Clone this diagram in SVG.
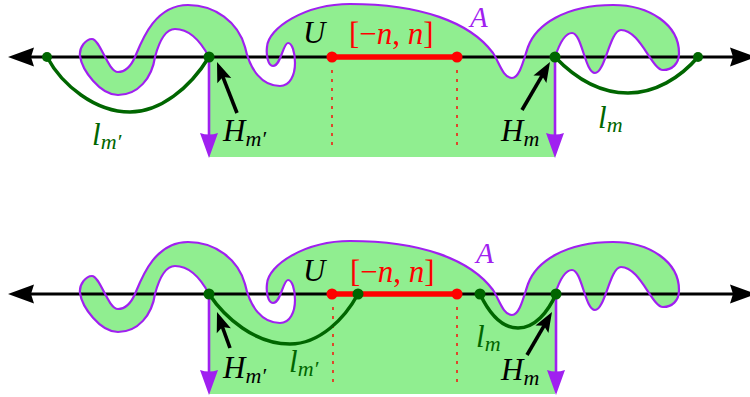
<svg xmlns="http://www.w3.org/2000/svg" width="750" height="397" viewBox="0 0 750 397">
<style>
.fillA{fill:#90EE90;stroke:none}
.curveA{fill:none;stroke:#A020F0;stroke-width:2.2}
.axis{stroke:#000;stroke-width:3.2}
.blk{fill:#000}
.redseg{stroke:#FF0000;stroke-width:5.5}
.rdash{stroke:#FF0000;stroke-width:1.4;stroke-dasharray:3 6}
.gcurve{fill:none;stroke:#006600;stroke-width:3.5}
.gdot{fill:#006600}
.rdot{fill:#FF0000}
.pshaft{stroke:#A020F0;stroke-width:2.6}
.ptip{fill:#A020F0}
.bshaft{stroke:#000;stroke-width:3.6}
text{font-family:"Liberation Serif","Times New Roman",serif;font-size:31px;font-style:italic}
.sub{font-size:22px}
.up{font-style:normal}
.g{fill:#006600}
.r{fill:#FF0000}
.p{fill:#A020F0}
.a{font-size:29px}
</style>
<defs>
<path id="fillshape" d="M209,157 L209,57 C201,42 190,29 175,29 C165,29 159,42 155,57 C152,78 138,95 118,95 C100,95 82,70 80,56 C79,47 86,39 92,39 C100,39 108,72 118,72 C126,72 131,66 135,57 C142,40 155,5 188,5 C215,5 238,22 245,47 C250,70 262,86 280,86 C290,86 295,75 295,63 C295,52 292,43 288,43 C283,43 281,66 273,66 C268,66 266,55 267,47 C268,28 305,4 350,4 C420,4 470,22 493,53 C499,62 503,78 512,78 C520,78 524,58 528,47 C536,25 565,5 613,5 C650,5 679,25 679,53 C679,64 672,70 663,70 C652,70 640,30 621,30 C610,30 605,73 595,73 C585,73 582,33 572,33 C564,33 558,48 555,57 L555,157 Z"/>
<path id="curveshape" d="M209,57 C201,42 190,29 175,29 C165,29 159,42 155,57 C152,78 138,95 118,95 C100,95 82,70 80,56 C79,47 86,39 92,39 C100,39 108,72 118,72 C126,72 131,66 135,57 C142,40 155,5 188,5 C215,5 238,22 245,47 C250,70 262,86 280,86 C290,86 295,75 295,63 C295,52 292,43 288,43 C283,43 281,66 273,66 C268,66 266,55 267,47 C268,28 305,4 350,4 C420,4 470,22 493,53 C499,62 503,78 512,78 C520,78 524,58 528,47 C536,25 565,5 613,5 C650,5 679,25 679,53 C679,64 672,70 663,70 C652,70 640,30 621,30 C610,30 605,73 595,73 C585,73 582,33 572,33 C564,33 558,48 555,57"/>
<path id="ah" d="M0,0 L-20,-7.5 L-16,0 L-20,7.5 Z"/>
<path id="pah" d="M0,0 L-9,-25 Q0,-22 9,-25 Z"/>
</defs>

<!-- ===== Top diagram ===== -->
<g id="regionA-top">
<use href="#fillshape" class="fillA"/>
<line class="rdash" x1="332" y1="70" x2="332" y2="150"/>
<line class="rdash" x1="457" y1="70" x2="457" y2="150"/>
</g>
<g id="axis-top">
<line class="axis" x1="26" y1="57" x2="738" y2="57"/>
<path class="blk" d="M8,57 L34,47.5 L31,57 L34,66.5 Z"/>
<path class="blk" d="M756,57 L730,47.5 L733,57 L730,66.5 Z"/>
</g>
<g id="boundaryA-top">
<use href="#curveshape" class="curveA"/>
</g>
<g id="connectors-top">
<line class="pshaft" x1="209" y1="57" x2="209" y2="140"/>
<use href="#pah" class="ptip" transform="translate(209,158)"/>
<line class="pshaft" x1="555" y1="57" x2="555" y2="140"/>
<use href="#pah" class="ptip" transform="translate(555,158)"/>
<path class="gcurve" d="M47,57 C62,85 95,112 130,112 C160,112 190,88 209,57"/>
<path class="gcurve" d="M555,57 C575,78 600,93 628,93 C655,93 680,78 698,57"/>
<line class="redseg" x1="332" y1="57" x2="457" y2="57"/>
<line class="bshaft" x1="237" y1="113" x2="221.4" y2="73.2"/>
<use href="#ah" class="blk" transform="translate(217,62) rotate(-111.4)"/>
<line class="bshaft" x1="522" y1="110" x2="544" y2="72.4"/>
<use href="#ah" class="blk" transform="translate(550,62) rotate(-59.7)"/>
</g>
<g id="points-top">
<circle class="gdot" cx="47" cy="57" r="5"/>
<circle class="gdot" cx="209" cy="57" r="5.5"/>
<circle class="rdot" cx="332" cy="57" r="5.5"/>
<circle class="rdot" cx="457" cy="57" r="5.5"/>
<circle class="gdot" cx="555" cy="57" r="5.5"/>
<circle class="gdot" cx="698" cy="57" r="5"/>
</g>
<g id="labels-top">
<text x="303" y="43">U</text>
<text x="349" y="44" class="r"><tspan class="up">[−</tspan>n<tspan class="up">, </tspan>n<tspan class="up">]</tspan></text>
<text x="470" y="27" class="p a">A</text>
<text x="223" y="141">H<tspan class="sub" dy="5">m′</tspan></text>
<text x="501" y="141">H<tspan class="sub" dy="5">m</tspan></text>
<text x="92" y="145" class="g">l<tspan class="sub" dy="4">m′</tspan></text>
<text x="598" y="128" class="g">l<tspan class="sub" dy="4">m</tspan></text>
</g>

<!-- ===== Bottom diagram ===== -->
<g id="regionA-bottom">
<use href="#fillshape" class="fillA" transform="translate(0,237)"/>
<line class="rdash" x1="333" y1="307" x2="333" y2="387"/>
<line class="rdash" x1="457" y1="307" x2="457" y2="387"/>
</g>
<g id="axis-bottom">
<line class="axis" x1="26" y1="294" x2="738" y2="294"/>
<path class="blk" d="M8,294 L34,284.5 L31,294 L34,303.5 Z"/>
<path class="blk" d="M756,294 L730,284.5 L733,294 L730,303.5 Z"/>
</g>
<g id="boundaryA-bottom">
<use href="#curveshape" class="curveA" transform="translate(0,237)"/>
</g>
<g id="connectors-bottom">
<line class="pshaft" x1="209" y1="294" x2="209" y2="377"/>
<use href="#pah" class="ptip" transform="translate(209,395)"/>
<line class="pshaft" x1="556" y1="294" x2="556" y2="377"/>
<use href="#pah" class="ptip" transform="translate(556,395)"/>
<line class="redseg" x1="332" y1="294" x2="457" y2="294"/>
<path class="gcurve" d="M209,294 C225,318 255,344 290,344 C320,344 345,318 358,294"/>
<path class="gcurve" d="M480,294 C490,315 503,328 518,328 C535,328 548,312 556,294"/>
<line class="bshaft" x1="230" y1="348" x2="221.1" y2="323.3"/>
<use href="#ah" class="blk" transform="translate(217,312) rotate(-109.9)"/>
<line class="bshaft" x1="527" y1="355" x2="546" y2="322.4"/>
<use href="#ah" class="blk" transform="translate(552,312) rotate(-59.8)"/>
</g>
<g id="points-bottom">
<circle class="gdot" cx="209" cy="294" r="5.5"/>
<circle class="rdot" cx="332" cy="294" r="5.5"/>
<circle class="gdot" cx="358" cy="294" r="5.5"/>
<circle class="rdot" cx="457" cy="294" r="5.5"/>
<circle class="gdot" cx="480" cy="294" r="5.5"/>
<circle class="gdot" cx="556" cy="294" r="5.5"/>
</g>
<g id="labels-bottom">
<text x="303" y="281">U</text>
<text x="350" y="282" class="r"><tspan class="up">[−</tspan>n<tspan class="up">, </tspan>n<tspan class="up">]</tspan></text>
<text x="476" y="263" class="p a">A</text>
<text x="223" y="378">H<tspan class="sub" dy="5">m′</tspan></text>
<text x="501" y="380">H<tspan class="sub" dy="5">m</tspan></text>
<text x="289" y="372" class="g">l<tspan class="sub" dy="4">m′</tspan></text>
<text x="476" y="347" class="g">l<tspan class="sub" dy="4">m</tspan></text>
</g>
</svg>
